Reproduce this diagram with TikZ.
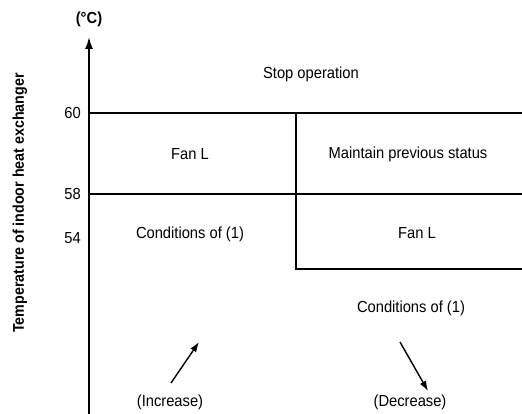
\documentclass[tikz,border=0pt]{standalone}
\usepackage{fontspec}
\setmainfont{Liberation Sans}
\newfontfamily\narrowsans[FakeStretch=0.92]{Liberation Sans}
\usetikzlibrary{arrows.meta,positioning}
\tikzset{
  >={Latex[length=10pt,width=7pt]},
  zone/.style={font=\narrowsans\fontsize{16}{18}\selectfont, inner sep=1pt},
  tick/.style={font=\narrowsans\fontsize{16}{18}\selectfont, anchor=east, inner sep=1pt},
  border/.style={line width=1.8pt},
  trend/.style={->, line width=1.4pt},
}

\begin{document}
\begin{tikzpicture}[x=1pt, y=-1pt]
  \useasboundingbox (0,0) rectangle (522,414);

  % axis
  \coordinate (origin) at (89,414);
  \coordinate (top) at (89,37);
  \draw[border, -{Latex[length=12pt,width=8pt]}] (origin) -- (top);
  \node[zone, font=\narrowsans\bfseries\fontsize{16}{18}\selectfont] (unit) at (89,19) {(°C)};
  \node[zone, font=\narrowsans\bfseries\fontsize{15.5}{17}\selectfont, rotate=90] (ylabel) at (20,203)
    {Temperature of indoor heat exchanger};

  % levels
  \coordinate (a60) at (89,113);
  \coordinate (b60) at (522,113);
  \coordinate (a58) at (89,194);
  \coordinate (b58) at (522,194);
  \coordinate (m60) at (296,113);
  \coordinate (m54) at (296,269);
  \coordinate (b54) at (522,269);
  \draw[border] (a60) -- (b60);
  \draw[border] (a58) -- (b58);
  \draw[border] (m60) -- (m54) -- (b54);

  \node[tick] (t60) at (82,113) {60};
  \node[tick] (t58) at (82,194) {58};
  \node[tick] (t54) at (82,238) {54};

  % zones
  \node[zone] (stop) at (311,74) {Stop operation};
  \node[zone] (fanA) at (190,154) {Fan L};
  \node[zone] (keep) at (408,154) {Maintain previous status};
  \node[zone] (condA) at (190,234) {Conditions of (1)};
  \node[zone] (fanB) at (417,233) {Fan L};
  \node[zone] (condB) at (411,308) {Conditions of (1)};

  % trends
  \coordinate (upS) at (171,383);
  \coordinate (upE) at (199,342);
  \coordinate (dnS) at (400,342);
  \coordinate (dnE) at (428,391);
  \draw[trend] (upS) -- (upE);
  \draw[trend] (dnS) -- (dnE);
  \node[zone] (inc) at (170,402) {(Increase)};
  \node[zone] (dec) at (410,402) {(Decrease)};
\end{tikzpicture}
\end{document}
